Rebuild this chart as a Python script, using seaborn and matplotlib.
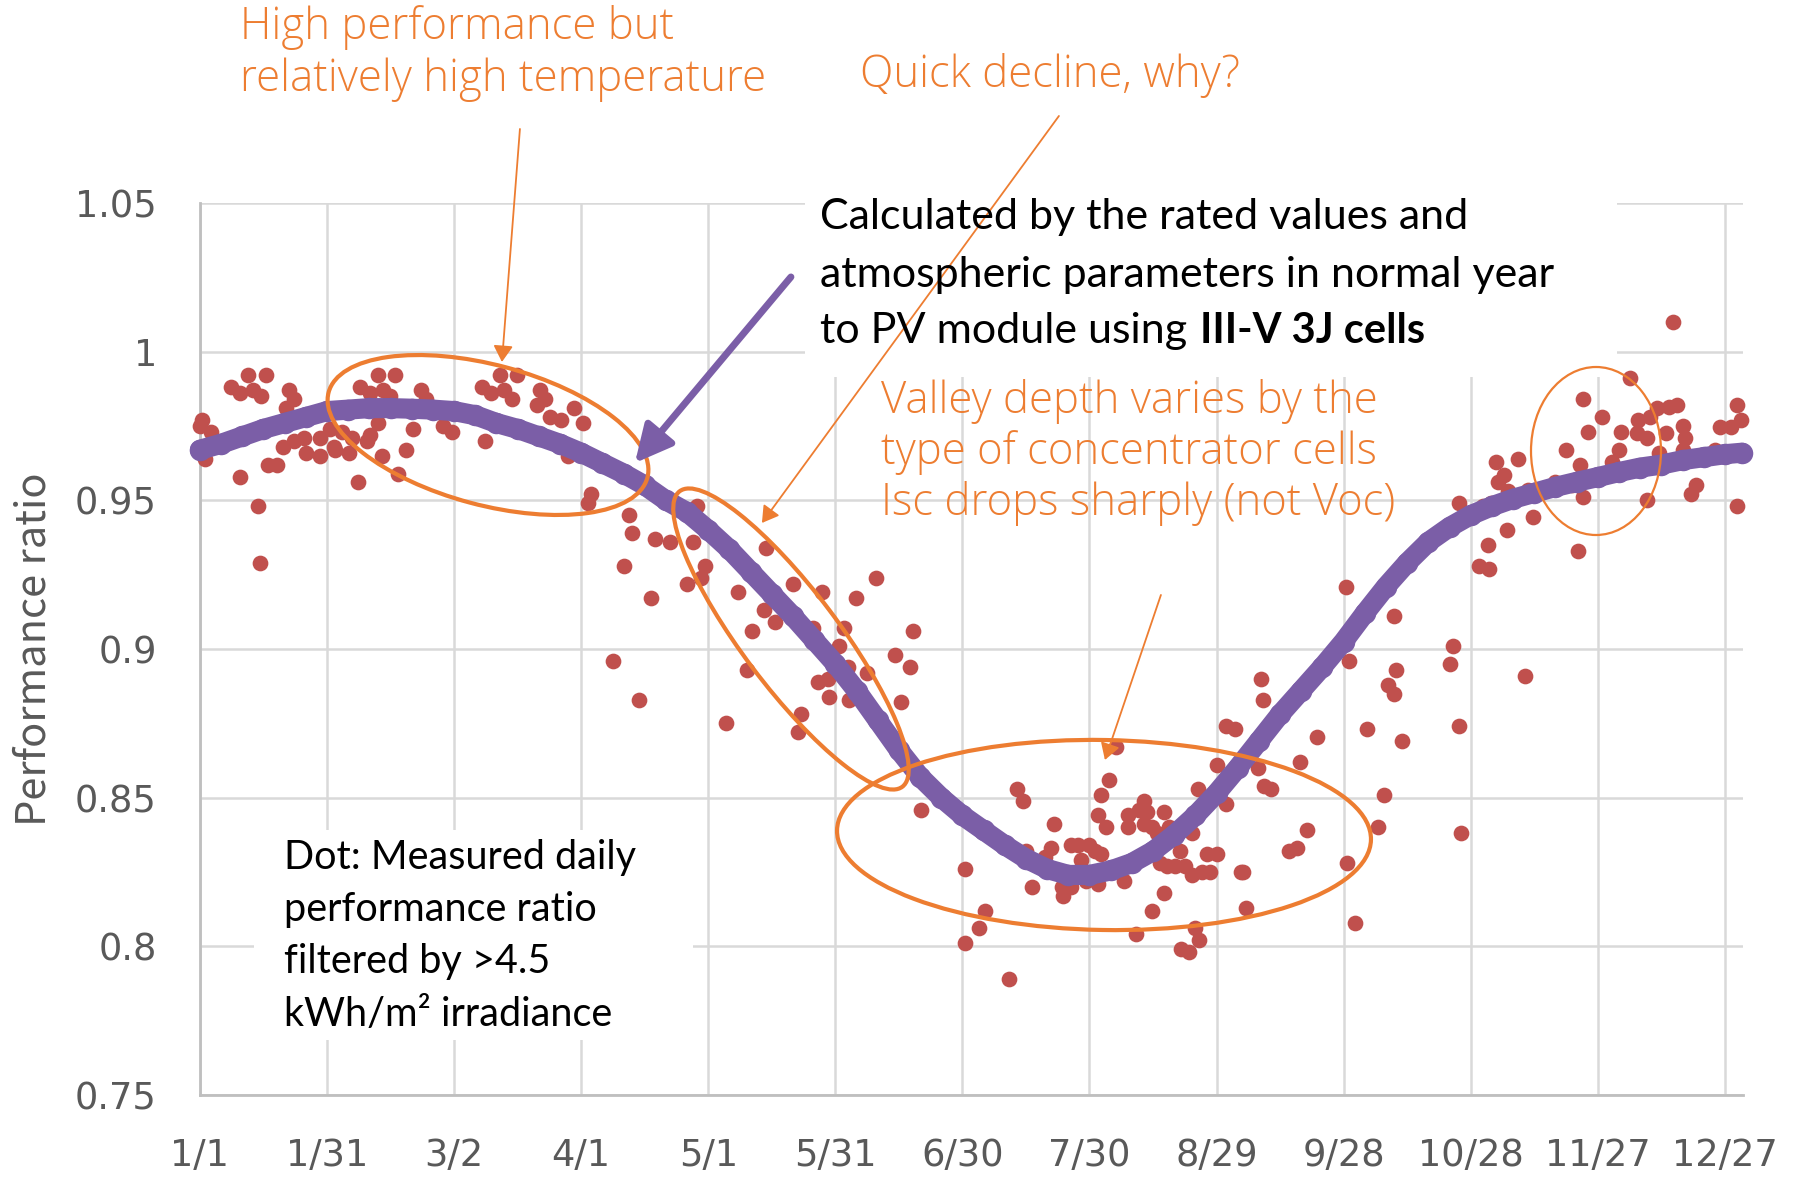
import seaborn as sns
import matplotlib.pyplot as plt
from matplotlib.patches import Ellipse, Rectangle

# measured daily performance ratio (day of year)
dot_day = [1.4, 1.0, 3.7, 2.2, 8.4, 10.4, 12.3, 13.5, 15.4, 16.6, 22.0, 23.2, 21.3, 20.5, 23.2, 25.6, 26.0,
           29.4, 29.4, 32.6, 33.0, 36.1, 36.9, 31.8, 34.5, 10.4, 17.0, 19.3, 14.6, 15.2, 38.4, 38.8, 41.1,
           43.1, 44.3, 47.0, 45.8, 43.1, 40.4, 41.1, 43.9, 49.7, 51.3, 47.8, 53.2, 54.4, 58.3, 60.6,
           71.9, 75.8, 67.6, 69.6, 72.7, 74.6, 81.3, 82.4, 80.5, 83.6, 86.3, 89.4, 91.4, 68.4, 87.9, 93.3,
           92.6, 102.3, 103.1, 108.5, 112.0, 117.5, 118.3, 101.1, 107.4, 120.2, 119.4, 115.9, 98.4, 104.6,
           134.7, 128.1, 140.9, 147.9, 134.1, 136.8, 131.4, 145.7, 153.1, 151.8, 155.8, 160.6, 169.4, 165.1,
           168.6, 130.1, 153.9, 158.5, 146.9, 149.2, 149.6, 154.3, 166.5, 143.0, 142.2, 125.3, 171.3, 181.5,
           193.9, 195.4, 202.7, 196.0, 202.0, 200.5, 197.4, 204.4, 206.7, 204.8, 206.7, 208.3, 211.0, 212.2,
           213.7, 209.1, 210.2, 213.1, 217.2, 215.7, 213.7, 213.1, 214.9, 219.2, 220.0, 220.0, 222.7, 223.9,
           224.6, 223.9, 225.8, 228.5, 227.0, 229.7, 227.7, 229.3, 231.3, 233.6, 232.4, 235.2, 235.2, 237.5,
           239.4, 238.7, 241.0, 228.5, 225.8, 221.9, 236.0, 236.8, 232.6, 234.4, 186.4, 184.9, 191.9, 236.7,
           241.0, 243.3, 245.3, 243.3, 246.8, 181.7,
           251.5, 252.0, 250.7, 252.3, 253.9, 260.8, 264.7, 262.4, 258.1, 260.0, 247.2, 248.0, 271.8, 273.6,
           307.0, 307.4, 298.2, 303.8, 305.8, 305.0, 303.0, 305.4, 271.6, 282.8, 272.2, 296.8, 296.0, 283.4,
           281.4, 282.8, 298.2, 276.4, 284.8, 280.6, 279.2, 298.8,
           309.9, 312.2, 314.6, 315.7, 309.6, 308.8, 320.8, 323.6, 326.3, 313.7,
           348.8, 338.6, 327.6, 331.9, 328.8, 336.5, 340.6, 340.2, 342.5, 343.4, 345.0, 347.7, 349.7, 347.0,
           351.0, 351.7, 351.0, 345.5, 336.0, 334.3, 326.9, 324.9, 327.4, 342.5, 354.3, 353.0, 359.8, 362.5,
           364.7, 363.9, 363.9, 358.7]
dot_pr = [0.977, 0.975, 0.973, 0.964, 0.988, 0.986, 0.992, 0.987, 0.985, 0.992, 0.987, 0.984, 0.981, 0.968,
          0.970, 0.971, 0.966, 0.971, 0.965, 0.968, 0.967, 0.966, 0.971, 0.974, 0.973, 0.958, 0.962, 0.962,
          0.948, 0.929, 0.956, 0.988, 0.986, 0.992, 0.987, 0.992, 0.985, 0.976, 0.970, 0.972, 0.965, 0.967,
          0.974, 0.959, 0.987, 0.984, 0.975, 0.973,
          0.992, 0.992, 0.988, 0.986, 0.987, 0.984, 0.987, 0.984, 0.982, 0.978, 0.977, 0.981, 0.976, 0.970,
          0.965, 0.952, 0.949, 0.945, 0.939, 0.937, 0.936, 0.936, 0.948, 0.928, 0.917, 0.928, 0.924, 0.922,
          0.896, 0.883,
          0.934, 0.919, 0.922, 0.919, 0.913, 0.909, 0.906, 0.907, 0.907, 0.901, 0.917, 0.924, 0.906, 0.898,
          0.894, 0.893, 0.894, 0.892, 0.889, 0.890, 0.884, 0.883, 0.882, 0.878, 0.872, 0.875, 0.846, 0.826,
          0.853, 0.849, 0.841, 0.832, 0.833, 0.830, 0.820, 0.820, 0.820, 0.817, 0.834, 0.834, 0.834, 0.832,
          0.831, 0.829, 0.822, 0.821, 0.867, 0.856, 0.851, 0.844, 0.840, 0.822, 0.844, 0.840, 0.846, 0.849,
          0.845, 0.841, 0.840, 0.845, 0.838, 0.840, 0.828, 0.827, 0.827, 0.827, 0.832, 0.838, 0.824, 0.825,
          0.825, 0.831, 0.831, 0.818, 0.812, 0.804, 0.806, 0.802, 0.799, 0.798, 0.812, 0.806, 0.789, 0.853,
          0.861, 0.874, 0.873, 0.848, 0.825, 0.801,
          0.890, 0.883, 0.860, 0.854, 0.853, 0.862, 0.8705, 0.839, 0.832, 0.833, 0.825, 0.813, 0.828, 0.808,
          0.963, 0.956, 0.949, 0.948, 0.949, 0.935, 0.928, 0.927, 0.921, 0.911, 0.896, 0.901, 0.895, 0.893,
          0.888, 0.885, 0.874, 0.873, 0.869, 0.851, 0.840, 0.838,
          0.953, 0.964, 0.9535, 0.9445, 0.940, 0.9585, 0.956, 0.967, 0.933, 0.891,
          1.010, 0.991, 0.984, 0.978, 0.973, 0.973, 0.977, 0.9725, 0.971, 0.978, 0.981, 0.9815, 0.982, 0.9725,
          0.975, 0.971, 0.967, 0.966, 0.967, 0.963, 0.962, 0.955, 0.951, 0.950, 0.955, 0.952, 0.9745, 0.9745,
          0.977, 0.982, 0.948, 0.967]

# calculated curve from rated values (normal year)
curve_day = [1, 6, 11, 16, 21, 26, 31, 36, 41, 46, 51, 56, 61, 66, 71, 76, 81, 86, 91, 96, 101, 106, 111,
             116, 121, 126, 131, 136, 141, 146, 151, 156, 161, 166, 171, 176, 181, 186, 191, 196, 201, 206,
             211, 216, 221, 226, 231, 236, 241, 246, 251, 256, 261, 266, 271, 276, 281, 286, 291, 296, 301,
             306, 311, 316, 321, 326, 331, 336, 341, 346, 351, 356, 361, 365]
curve_pr = [0.967, 0.969, 0.9715, 0.974, 0.976, 0.978, 0.980, 0.9805, 0.981, 0.981, 0.9808, 0.9805, 0.980,
            0.9786, 0.976, 0.974, 0.9715, 0.969, 0.966, 0.9625, 0.959, 0.955, 0.950, 0.946, 0.940, 0.9335,
            0.926, 0.9185, 0.911, 0.903, 0.895, 0.886, 0.876, 0.866, 0.857, 0.850, 0.844, 0.839, 0.834,
            0.8295, 0.826, 0.824, 0.824, 0.8255, 0.828, 0.832, 0.8375, 0.844, 0.8515, 0.860, 0.869, 0.878,
            0.886, 0.894, 0.9025, 0.912, 0.921, 0.929, 0.936, 0.941, 0.945, 0.948, 0.9505, 0.9525, 0.9545,
            0.9562, 0.9578, 0.9595, 0.961, 0.962, 0.9635, 0.9645, 0.9655, 0.966]

tick_days = [1, 31, 61, 91, 121, 151, 181, 211, 241, 271, 301, 331, 361]
tick_labels = ['1/1', '1/31', '3/2', '4/1', '5/1', '5/31', '6/30', '7/30', '8/29', '9/28', '10/28', '11/27', '12/27']
ytick_vals = [0.75, 0.8, 0.85, 0.9, 0.95, 1.0, 1.05]
ytick_labels = ['0.75', '0.8', '0.85', '0.9', '0.95', '1', '1.05']

ORANGE = '#ED7D31'
PURPLE = '#7B5EA7'
RED = '#C0504D'
GREY = '#595959'

sns.set_style('whitegrid')
plt.rcParams['font.family'] = ['DejaVu Sans']

W, H = 1811, 1178
fig = plt.figure(figsize=(W / 100, H / 100), dpi=100)
ax = fig.add_axes([0.1104, 0.0705, 0.8521, 0.7572])

sns.scatterplot(x=dot_day, y=dot_pr, color=RED, s=128, linewidth=0, ax=ax, zorder=3, clip_on=False)
sns.lineplot(x=curve_day, y=curve_pr, color=PURPLE, linewidth=14.5, marker='o', markersize=15.5,
             markeredgewidth=0, ax=ax, zorder=4, clip_on=False)

ax.set_xlim(1, 365.3)
ax.set_ylim(0.75, 1.05)
ax.set_xticks(tick_days)
ax.set_xticklabels(tick_labels)
ax.set_yticks(ytick_vals)
ax.set_yticklabels(ytick_labels)
ax.tick_params(axis='both', length=0, labelsize=26.5, labelcolor=GREY)
ax.tick_params(axis='y', pad=31)
ax.tick_params(axis='x', pad=30)
ax.grid(True, color='#D9D9D9', linewidth=1.8)
for s in ['top', 'right']:
    ax.spines[s].set_visible(False)
for s in ['left', 'bottom']:
    ax.spines[s].set_color('#BFBFBF')
    ax.spines[s].set_linewidth(2)
ax.set_ylabel('Performance ratio', fontsize=30, color=GREY, family=['Noto Sans CJK JP', 'DejaVu Sans'])
ax.yaxis.set_label_coords(-0.094, 0.5)


def px(x, y):
    return (x, H - y)


# white boxes behind the text blocks
ax.add_patch(Rectangle(px(805, 377), 812, 200, transform=None, facecolor='white', edgecolor='none', zorder=1))
ax.add_patch(Rectangle(px(254, 1040), 439, 210, transform=None, facecolor='white', edgecolor='none', zorder=1))

# orange ellipses
for (cx, cy, w, h, ang, lw) in [(488, 435, 330, 140, -15, 3), (791, 639, 370, 96, -53, 3),
                                (1104, 835, 534, 190, -1, 3), (1596, 451, 130, 168, 0, 1.6)]:
    ax.add_patch(Ellipse(px(cx, cy), w, h, angle=ang, transform=None, fill=False,
                         edgecolor=ORANGE, linewidth=lw, zorder=5))


def to_data(x, y):
    return ((x - 200) / 4.236 + 1, 1.05 - (y - 203) * 0.3 / 892)


oarrow = dict(arrowstyle='-|>,head_length=0.45,head_width=0.27', color=ORANGE, lw=1.3,
              mutation_scale=22, shrinkA=0, shrinkB=0)
for (x0, y0, x1, y1) in [(520, 129, 502, 362), (1059, 116, 762, 523), (1161, 595, 1105, 760)]:
    ax.annotate('', xy=to_data(x1, y1), xytext=to_data(x0, y0), arrowprops=oarrow,
                annotation_clip=False, zorder=6)
ax.annotate('', xy=to_data(635, 463), xytext=to_data(791, 277),
            arrowprops=dict(arrowstyle='-|>,head_length=0.7,head_width=0.35', color=PURPLE, lw=5,
                            mutation_scale=32, shrinkA=0, shrinkB=0),
            annotation_clip=False, zorder=6)


def ftext(x, y, s, **kw):
    return fig.text(x / W, 1 - y / H, s, va='center', ha='left', **kw)


okw = dict(color=ORANGE, fontsize=31.5, family=['Open Sans', 'DejaVu Sans'], weight='light')
ftext(240, 28, 'High performance but', **okw)
ftext(240, 80, 'relatively high temperature', **okw)
ftext(860, 76, 'Quick decline, why?', **okw)
ftext(881, 402, 'Valley depth varies by the', **okw)
ftext(881, 453, 'type of concentrator cells', **okw)
ftext(881, 504, 'Isc drops sharply (not Voc)', **okw)

bkw = dict(color='black', fontsize=31, family=['Lato', 'DejaVu Sans'])
ftext(820, 217, 'Calculated by the rated values and', **bkw)
ftext(820, 275, 'atmospheric parameters in normal year', **bkw)
t = ftext(820, 331, 'to PV module using', **bkw)
dkw = dict(color='black', fontsize=28.5, family=['Lato', 'DejaVu Sans'])
ftext(284, 858, 'Dot: Measured daily', **dkw)
ftext(284, 910, 'performance ratio', **dkw)
ftext(284, 962, 'filtered by >4.5', **dkw)
ftext(284, 1014, 'kWh/m² irradiance', **dkw)

fig.canvas.draw()
bb = t.get_window_extent()
fig.text((bb.x1 + 13) / W, 1 - 331 / H, 'III-V 3J cells', va='center', ha='left',
         color='black', fontsize=30, family=['Lato', 'DejaVu Sans'], weight='bold')

fig.savefig('out.png', dpi=100)
